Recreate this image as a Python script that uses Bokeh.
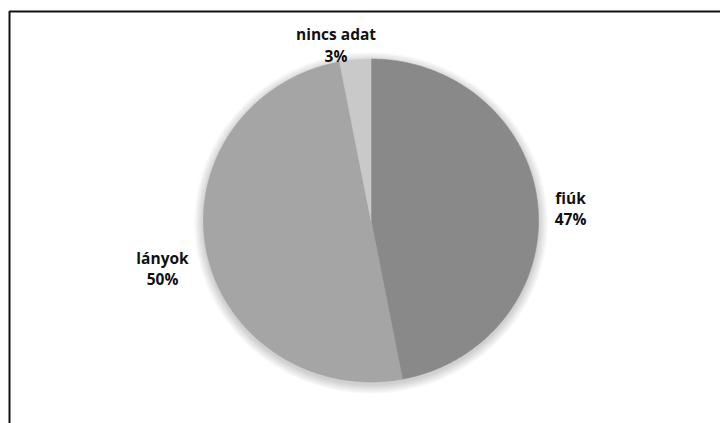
import numpy as np
from bokeh.plotting import figure
from bokeh.models import Range1d, ColumnDataSource
from bokeh.core.properties import value
from bokeh.embed import file_html
from bokeh.resources import INLINE

# Survey breakdown by gender
categories = ["fiúk", "lányok", "nincs adat"]
shares = [47, 50, 3]
pct_labels = ["47%", "50%", "3%"]
colors = ["#898989", "#a5a5a5", "#c9c9c9"]

W, H = 720, 423
p = figure(width=W, height=H, output_backend="svg", toolbar_location=None,
           x_range=Range1d(0, W), y_range=Range1d(H, 0),
           min_border=0, outline_line_color=None, background_fill_color="white",
           border_fill_color="white")
p.axis.visible = False
p.grid.visible = False

# frame line around the chart area
p.line(x=[9, 9, W + 5], y=[H + 5, 11, 11], line_color="#111111", line_width=2)

# pie geometry (slightly elliptical, as in the exported chart)
cx, cy = 370.5, 220.0
rx, ry = 167.5, 161.5

# soft drop shadow
for k in range(8):
    grow = 1.0 + k * 1.2
    p.ellipse(x=[cx], y=[cy + 2.5], width=[2 * (rx + grow)], height=[2 * (ry + grow)],
              fill_color="black", fill_alpha=0.022, line_color=None)

# slices, clockwise from 12 o'clock
total = float(sum(shares))
ends = np.cumsum(shares) / total * 2 * np.pi
starts = np.concatenate([[0.0], ends[:-1]])
xs, ys = [], []
for a0, a1 in zip(starts, ends):
    t = np.linspace(a0, a1, max(8, int((a1 - a0) * 120)))
    xs.append(np.concatenate([[cx], cx + rx * np.sin(t), [cx]]))
    ys.append(np.concatenate([[cy], cy - ry * np.cos(t), [cy]]))
src = ColumnDataSource(dict(xs=xs, ys=ys, color=colors, name=categories))
p.patches("xs", "ys", source=src, fill_color="color", line_color="color", line_width=0.6)

# data labels (name on the first line, percentage below)
label_x = [570, 162, 335.5]
name_y = [197, 257, 33]
pct_y = [218, 278, 55]
font = value("Open Sans")
p.text(x=label_x, y=name_y, text=categories, text_font=font, text_font_style="bold",
       text_font_size="15.5px", text_color="#111111", text_align="center",
       text_baseline="alphabetic")
p.text(x=label_x, y=pct_y, text=pct_labels, text_font=font, text_font_style="bold",
       text_font_size="15.5px", text_color="#111111", text_align="center",
       text_baseline="alphabetic")

open("out.html", "w").write(file_html(p, INLINE))
